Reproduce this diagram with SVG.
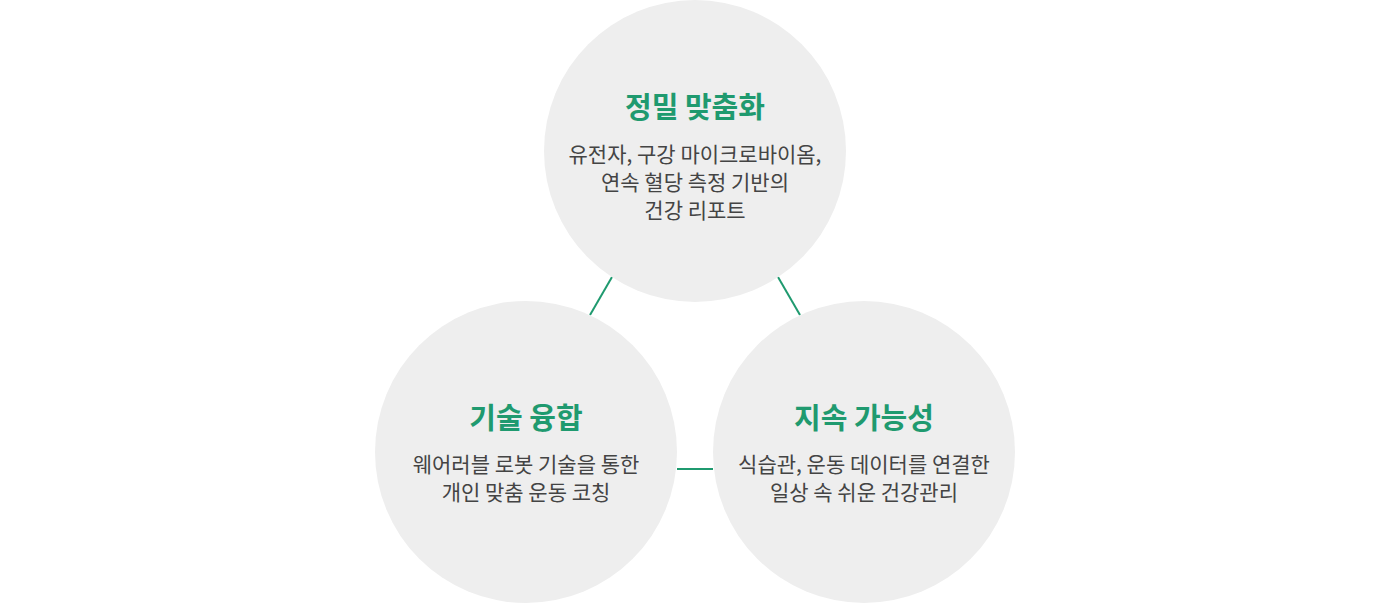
<svg xmlns="http://www.w3.org/2000/svg" width="1390" height="603" viewBox="0 0 1390 603">
<style>
.c{fill:#eeeeee}
.t{font-family:"Noto Sans CJK KR","Noto Sans",sans-serif;font-size:29px;font-weight:700;fill:#1f9a6f;text-anchor:middle}
.b{font-family:"Noto Sans CJK KR","Noto Sans",sans-serif;font-size:21px;fill:#444444;text-anchor:middle}
.l{stroke:#1f9a6f;stroke-width:2;fill:none}
</style>
<rect width="1390" height="603" fill="#ffffff"/>
<g id="connectors">
<line class="l" x1="612" y1="277" x2="590" y2="315"/>
<line class="l" x1="778" y1="277" x2="800" y2="315"/>
<line class="l" x1="677" y1="469" x2="713" y2="469"/>
</g>
<g id="node-top">
<circle class="c" cx="695" cy="151" r="151"/>
<text class="t" x="695" y="118">정밀 맞춤화</text>
<text class="b" x="695" y="162">유전자, 구강 마이크로바이옴,</text>
<text class="b" x="695" y="190">연속 혈당 측정 기반의</text>
<text class="b" x="695" y="218">건강 리포트</text>
</g>
<g id="node-left">
<circle class="c" cx="526" cy="452" r="151"/>
<text class="t" x="526" y="429">기술 융합</text>
<text class="b" x="526" y="472">웨어러블 로봇 기술을 통한</text>
<text class="b" x="526" y="500">개인 맞춤 운동 코칭</text>
</g>
<g id="node-right">
<circle class="c" cx="864" cy="452" r="151"/>
<text class="t" x="864" y="429">지속 가능성</text>
<text class="b" x="864" y="472">식습관, 운동 데이터를 연결한</text>
<text class="b" x="864" y="500">일상 속 쉬운 건강관리</text>
</g>
</svg>
